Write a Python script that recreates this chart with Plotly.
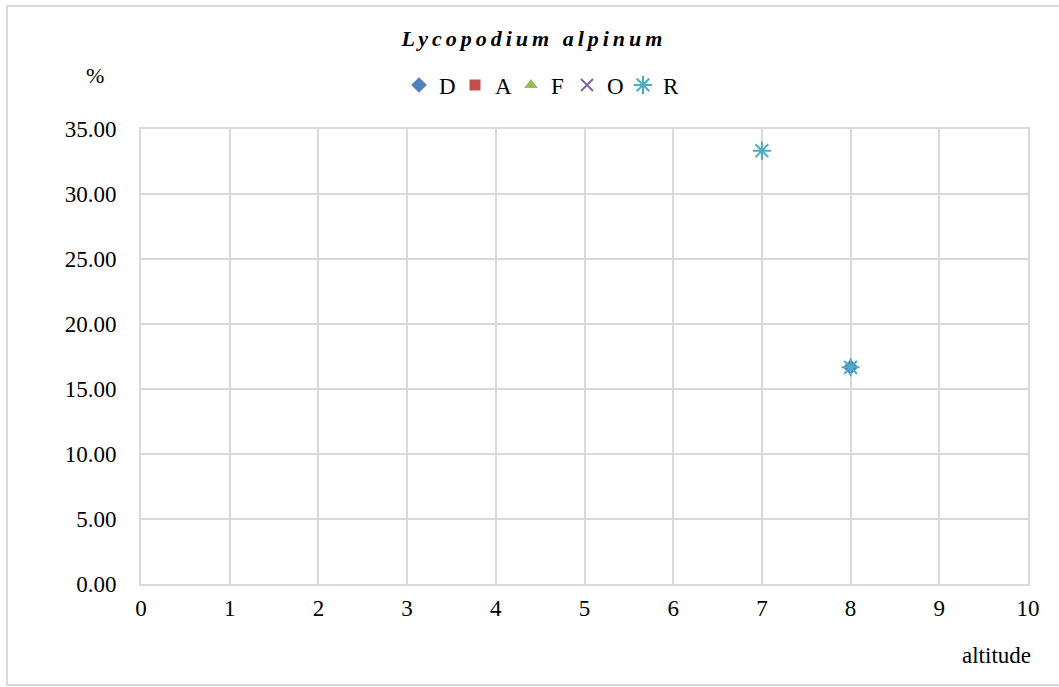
import plotly.graph_objects as go

title_text = "Lycopodium alpinum"
series_names = ["D", "A", "F", "O", "R"]
series_colors = ["#4F81BD", "#C0504D", "#9BBB59", "#8064A2", "#4BACC6"]
series_symbols = ["diamond", "square", "triangle-up", "x-thin-open", "asterisk-open"]
series_x = [[8], [None], [None], [None], [7, 8]]
series_y = [[16.67], [None], [None], [None], [33.33, 16.67]]
x_ticks = [0, 1, 2, 3, 4, 5, 6, 7, 8, 9, 10]
y_ticks = [0, 5, 10, 15, 20, 25, 30, 35]

W, H = 1059, 687
L, R, T, B = 141, 31, 129, 103
PW, PH = W - L - R, H - T - B

def px_x(p):
    return (p - L) / PW

def px_y(p):
    return (H - p - B) / PH

fig = go.Figure()
sizes = {"diamond": 12, "square": 11, "triangle-up": 12, "x-thin-open": 12, "asterisk-open": 15}
for name, col, sym, xs, ys in zip(series_names, series_colors, series_symbols, series_x, series_y):
    open_sym = sym.endswith("open")
    fig.add_trace(go.Scatter(
        x=xs, y=ys, mode="markers", name=name,
        marker=dict(symbol=sym, color=col, size=sizes[sym],
                    line=dict(color=col, width=2 if open_sym else 0)),
    ))

font = "Liberation Serif, Times New Roman, serif"
fig.update_layout(
    width=W, height=H,
    margin=dict(l=L, r=R, t=T, b=B),
    paper_bgcolor="white", plot_bgcolor="white",
    font=dict(family=font, size=23, color="#000000"),
    title=dict(text='<span style="letter-spacing:4px"><b><i>' + title_text + "</i></b></span>",
               x=534 / W, xref="container", xanchor="center", y=1 - 38 / H, yanchor="middle",
               font=dict(family=font, size=22, color="#000000")),
    showlegend=True,
    legend=dict(orientation="h", x=px_x(399), xanchor="left", xref="paper",
                y=px_y(85), yanchor="middle", yref="paper",
                font=dict(family=font, size=23), itemwidth=30, entrywidth=11,
                entrywidthmode="pixels", tracegroupgap=0, borderwidth=0,
                bgcolor="rgba(0,0,0,0)"),
    xaxis=dict(range=[0, 10], tickvals=x_ticks, ticktext=[str(v) for v in x_ticks],
               showgrid=True, gridcolor="#D9D9D9", gridwidth=2,
               showline=True, linecolor="#D9D9D9", linewidth=2, mirror=True,
               zeroline=False, ticks="", tickfont=dict(size=23), ticklabelstandoff=2),
    yaxis=dict(range=[0, 35], tickvals=y_ticks, ticktext=["%.2f" % v for v in y_ticks],
               showgrid=True, gridcolor="#D9D9D9", gridwidth=2,
               showline=True, linecolor="#D9D9D9", linewidth=2, mirror=True,
               zeroline=False, ticks="", tickfont=dict(size=23), ticklabelstandoff=18),
    annotations=[
        dict(text="%", xref="paper", yref="paper", x=px_x(95),
             y=px_y(75), showarrow=False, xanchor="center", yanchor="middle",
             font=dict(family=font, size=22)),
        dict(text="altitude", xref="paper", yref="paper", x=px_x(996),
             y=px_y(655), showarrow=False, xanchor="center", yanchor="middle",
             font=dict(family=font, size=23)),
    ],
    shapes=[
        dict(type="rect", xref="paper", yref="paper",
             x0=px_x(7), x1=px_x(1062),
             y0=px_y(685), y1=px_y(6),
             line=dict(color="#D9D9D9", width=2), fillcolor="rgba(0,0,0,0)", layer="below"),
    ],
)

fig.write_html("out.html", config={"displayModeBar": False},
               post_script="document.body.style.margin='0';")
